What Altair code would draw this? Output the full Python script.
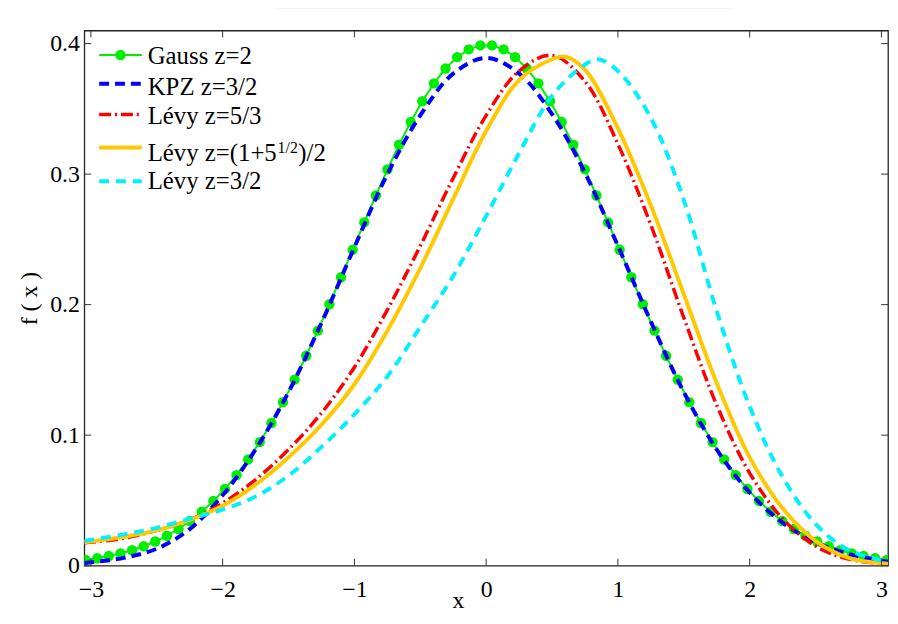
import altair as alt
import pandas as pd

# ---------------- data ----------------
gauss_x = [-3.0400, -2.9519, -2.8638, -2.7757, -2.6875, -2.5994, -2.5113, -2.4232, -2.3351, -2.2470,
           -2.1588, -2.0707, -1.9826, -1.8945, -1.8064, -1.7183, -1.6301, -1.5420, -1.4539, -1.3658,
           -1.2777, -1.1896, -1.1014, -1.0133, -0.9252, -0.8371, -0.7490, -0.6609, -0.5728, -0.4846,
           -0.3965, -0.3084, -0.2203, -0.1322, -0.0441,
           0.0441, 0.1322, 0.2203, 0.3084, 0.3965, 0.4846, 0.5728, 0.6609, 0.7490, 0.8371,
           0.9252, 1.0133, 1.1014, 1.1896, 1.2777, 1.3658, 1.4539, 1.5420, 1.6301, 1.7183,
           1.8064, 1.8945, 1.9826, 2.0707, 2.1588, 2.2470, 2.3351, 2.4232, 2.5113, 2.5994,
           2.6875, 2.7757, 2.8638, 2.9519, 3.0400]
gauss_y = [0.0044, 0.0057, 0.0074, 0.0094, 0.0118, 0.0149, 0.0185, 0.0229, 0.0281, 0.0342,
           0.0413, 0.0495, 0.0588, 0.0694, 0.0814, 0.0947, 0.1093, 0.1253, 0.1425, 0.1608,
           0.1801, 0.2003, 0.2210, 0.2420, 0.2630, 0.2836, 0.3036, 0.3225, 0.3400, 0.3558,
           0.3695, 0.3809, 0.3896, 0.3956, 0.3986,
           0.3986, 0.3956, 0.3896, 0.3809, 0.3695, 0.3558, 0.3400, 0.3225, 0.3036, 0.2836,
           0.2630, 0.2420, 0.2210, 0.2003, 0.1801, 0.1608, 0.1425, 0.1253, 0.1093, 0.0947,
           0.0814, 0.0694, 0.0588, 0.0495, 0.0413, 0.0342, 0.0281, 0.0229, 0.0185, 0.0149,
           0.0118, 0.0094, 0.0074, 0.0057, 0.0044]

kpz_x = [-3.05, -2.75, -2.5, -2.25, -2.0, -1.75, -1.5, -1.25, -1.0, -0.75, -0.5, -0.25, 0.0,
         0.25, 0.5, 0.75, 1.0, 1.25, 1.5, 1.75, 2.0, 2.25, 2.5, 2.75, 3.05]
kpz_y = [0.002, 0.006, 0.013, 0.028, 0.054, 0.089, 0.133, 0.186, 0.244, 0.300, 0.345, 0.377, 0.389,
         0.377, 0.346, 0.301, 0.245, 0.187, 0.133, 0.089, 0.056, 0.033, 0.018, 0.009, 0.003]

levy53_x = [-3.05, -2.75, -2.5, -2.25, -2.0, -1.75, -1.5, -1.25, -1.0, -0.75, -0.5, -0.25, 0.0,
            0.25, 0.5, 0.75, 1.0, 1.25, 1.5, 1.75, 2.0, 2.25, 2.5, 2.75, 3.05]
levy53_y = [0.0175, 0.021, 0.027, 0.035, 0.048, 0.066, 0.089, 0.117, 0.152, 0.196, 0.245, 0.297, 0.345,
            0.379, 0.391, 0.371, 0.323, 0.261, 0.190, 0.123, 0.071, 0.036, 0.015, 0.005, 0.0015]

levyg_x = [-3.05, -2.75, -2.5, -2.25, -2.0, -1.75, -1.5, -1.25, -1.0, -0.75, -0.5, -0.25, 0.0,
           0.25, 0.5, 0.6, 0.75, 1.0, 1.25, 1.5, 1.75, 2.0, 2.25, 2.5, 2.75, 3.05]
levyg_y = [0.018, 0.022, 0.027, 0.035, 0.046, 0.062, 0.083, 0.108, 0.139, 0.180, 0.228, 0.281, 0.333,
           0.372, 0.388, 0.390, 0.380, 0.335, 0.276, 0.208, 0.140, 0.083, 0.044, 0.019, 0.006, 0.0015]

levy32_x = [-3.05, -2.75, -2.5, -2.25, -2.0, -1.75, -1.5, -1.25, -1.0, -0.75, -0.5, -0.25, 0.0,
            0.25, 0.5, 0.75, 0.85, 1.0, 1.25, 1.5, 1.75, 2.0, 2.25, 2.5, 2.75, 3.05]
levy32_y = [0.019, 0.024, 0.029, 0.036, 0.043, 0.053, 0.069, 0.091, 0.116, 0.145, 0.183, 0.222, 0.268,
            0.316, 0.360, 0.384, 0.388, 0.379, 0.343, 0.280, 0.195, 0.122, 0.068, 0.032, 0.012, 0.003]

x_ticks = [-3, -2, -1, 0, 1, 2, 3]
y_ticks = [0, 0.1, 0.2, 0.3, 0.4]
labels = ["Gauss z=2", "KPZ z=3/2", "Lévy z=5/3", "Lévy z=(1+5", "Lévy z=3/2"]
label_sup = "1/2"
label_tail = ")/2"

# ---------------- layout / style ----------------
W, H = 811, 540
FONT = "Liberation Serif"
xs = alt.Scale(domain=[-3.05, 3.05], nice=False, zero=False)
ys = alt.Scale(domain=[0, 0.41], nice=False, zero=False)

XA = alt.Axis(values=x_ticks, format="d", ticks=False, domain=False, grid=False,
              labelFlush=False, labelOverlap=False, labelBound=False,
              labelExpr="datum.value < 0 ? datum.label + '\u2002' : datum.label",
              labelFont=FONT, labelFontSize=24, labelColor="black", labelPadding=12,
              title="x", titleFont=FONT, titleFontSize=24, titleFontWeight="normal",
              titleColor="black", titleX=377, titleY=42, titleAlign="center",
              titleBaseline="alphabetic")
YA = alt.Axis(values=y_ticks, ticks=False, domain=False, grid=False,
              labelFlush=False, labelOverlap=False, labelBound=False,
              labelExpr="datum.value == 0 ? '0' : format(datum.value, '.1f')",
              labelFont=FONT, labelFontSize=24, labelColor="black", labelPadding=5,
              title="f ( x )", titleFont=FONT, titleFontSize=24, titleFontWeight="normal",
              titleColor="black", titleAngle=-90, titleX=-48, titleY=270,
              titleAlign="center", titleBaseline="alphabetic")


def X(field):
    return alt.X(field, scale=xs, axis=XA)


def Y(field):
    return alt.Y(field, scale=ys, axis=YA)


one = pd.DataFrame({"k": [0]})


def curve(xv, yv, color, width, dash=None, interp="catmull-rom"):
    df = pd.DataFrame({"x": xv, "y": yv})
    kw = dict(color=color, strokeWidth=width, interpolate=interp, clip=True)
    if dash:
        kw["strokeDash"] = dash
    return alt.Chart(df).mark_line(**kw).encode(
        x=X("x:Q"), y=Y("y:Q"), order=alt.Order("x:Q"))


GREEN, BLUE, RED, ORANGE, CYAN = "#00ee00", "#0000ff", "#ff0000", "#ffc800", "#00f0ff"

gauss_line = curve(gauss_x, gauss_y, GREEN, 2, interp="linear")
gauss_pts = alt.Chart(pd.DataFrame({"x": gauss_x, "y": gauss_y})).mark_point(
    filled=True, size=110, color=GREEN, opacity=1, clip=True
).encode(x=X("x:Q"), y=Y("y:Q"))
kpz = curve(kpz_x, kpz_y, BLUE, 4, [10, 6])
l53 = curve(levy53_x, levy53_y, RED, 3.5, [12, 4, 2, 4])
lg = curve(levyg_x, levyg_y, ORANGE, 4)
l32 = curve(levy32_x, levy32_y, CYAN, 4, [10, 7])

# inner ticks on all four sides
TK = "#333333"
xt = pd.DataFrame({"t": x_ticks})
yt = pd.DataFrame({"t": y_ticks})
tick_b = alt.Chart(xt).mark_rule(color=TK, strokeWidth=1).encode(
    x=X("t:Q"), y=alt.value(H), y2=alt.value(H - 7))
tick_t = alt.Chart(xt).mark_rule(color=TK, strokeWidth=1).encode(
    x=X("t:Q"), y=alt.value(0), y2=alt.value(7))
tick_l = alt.Chart(yt).mark_rule(color=TK, strokeWidth=1).encode(
    y=Y("t:Q"), x=alt.value(0), x2=alt.value(7))
tick_r = alt.Chart(yt).mark_rule(color=TK, strokeWidth=1).encode(
    y=Y("t:Q"), x=alt.value(W), x2=alt.value(W - 7))

# faint grey line above the plot (as in the reference image)
top_grey = alt.Chart(one).mark_rule(color="#cfcfcf", strokeWidth=1).encode(
    x=alt.value(195), x2=alt.value(652), y=alt.value(-23))

# ---------------- legend (drawn inside the plot, top-left) ----------------
LX0, LX1, TX = 15, 58, 64
line_y = [24.7, 53.7, 84.7, 118, 152]
text_y = [34, 64.7, 94.7, 131.3, 160.3]
styles = [(GREEN, 2, None), (BLUE, 4, [10, 6]), (RED, 3.5, [12, 4, 2, 4]), (ORANGE, 4, None), (CYAN, 4, [10, 7])]

leg_layers = []
for i, (c, w, d) in enumerate(styles):
    kw = dict(color=c, strokeWidth=w)
    if d:
        kw["strokeDash"] = d
    leg_layers.append(alt.Chart(one).mark_rule(**kw).encode(
        x=alt.value(LX0), x2=alt.value(LX1), y=alt.value(line_y[i])))
    leg_layers.append(alt.Chart(one).mark_text(
        text=labels[i], align="left", baseline="alphabetic", font=FONT, fontSize=25, color="black"
    ).encode(x=alt.value(TX), y=alt.value(text_y[i])))
leg_layers.append(alt.Chart(one).mark_point(filled=True, size=110, color=GREEN, opacity=1).encode(
    x=alt.value((LX0 + LX1) / 2), y=alt.value(line_y[0])))
leg_layers.append(alt.Chart(one).mark_text(
    text=label_sup, align="left", baseline="alphabetic", font=FONT, fontSize=16, color="black"
).encode(x=alt.value(TX + 131), y=alt.value(text_y[3] - 8)))
leg_layers.append(alt.Chart(one).mark_text(
    text=label_tail, align="left", baseline="alphabetic", font=FONT, fontSize=25, color="black"
).encode(x=alt.value(TX + 131 + 21), y=alt.value(text_y[3])))

chart = alt.layer(
    gauss_line, gauss_pts, kpz, l53, lg, l32,
    tick_b, tick_t, tick_l, tick_r, top_grey, *leg_layers
).properties(
    width=W, height=H,
    padding={"left": 77, "top": 20, "right": 2, "bottom": 44},
    autosize=alt.AutoSizeParams(type="none"),
    background="white",
).configure_view(stroke="#222222", strokeWidth=1.3)

chart.save("out.html", embed_options={"renderer": "svg", "actions": False})
